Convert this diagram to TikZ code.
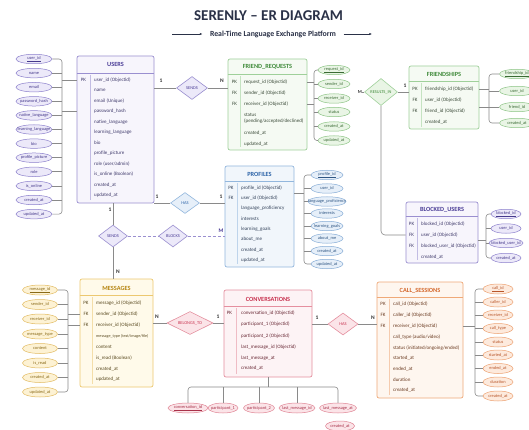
\documentclass[tikz,border=0pt]{standalone}
\usepackage{fontspec}
\setmainfont{Carlito}
\usetikzlibrary{shapes.geometric,arrows.meta,calc}

% theme colours: B border, F fill, H header text, T row text, E attribute border, L light fill, A attribute text
\definecolor{puB}{HTML}{9A8FD0}\definecolor{puF}{HTML}{F7F5FC}\definecolor{puH}{HTML}{4A3C96}
\definecolor{puT}{HTML}{3F3A6B}\definecolor{puE}{HTML}{8C80CC}\definecolor{puL}{HTML}{ECE9F9}\definecolor{puA}{HTML}{463A8C}
\definecolor{grB}{HTML}{9FD09A}\definecolor{grF}{HTML}{F5FAF3}\definecolor{grH}{HTML}{3F8A3A}
\definecolor{grT}{HTML}{3A4A38}\definecolor{grE}{HTML}{8CC485}\definecolor{grL}{HTML}{E9F5E5}\definecolor{grA}{HTML}{3B6B35}
\definecolor{blB}{HTML}{93B7DD}\definecolor{blF}{HTML}{F1F6FB}\definecolor{blH}{HTML}{2D64A8}
\definecolor{blT}{HTML}{33425A}\definecolor{blE}{HTML}{86ACD6}\definecolor{blL}{HTML}{E6EFF9}\definecolor{blA}{HTML}{2F5684}
\definecolor{yeB}{HTML}{ECC870}\definecolor{yeF}{HTML}{FFFAEA}\definecolor{yeH}{HTML}{B5840F}
\definecolor{yeT}{HTML}{5A4A20}\definecolor{yeE}{HTML}{E2BB62}\definecolor{yeL}{HTML}{FDF2D4}\definecolor{yeA}{HTML}{8A6A18}
\definecolor{pkB}{HTML}{E58F9F}\definecolor{pkF}{HTML}{FDF3F5}\definecolor{pkH}{HTML}{C8324F}
\definecolor{pkT}{HTML}{6A2A36}\definecolor{pkE}{HTML}{E08595}\definecolor{pkL}{HTML}{FBE4E8}\definecolor{pkA}{HTML}{A8324A}
\definecolor{orB}{HTML}{EFA978}\definecolor{orF}{HTML}{FEF6EF}\definecolor{orH}{HTML}{D4672B}
\definecolor{orT}{HTML}{6A3A20}\definecolor{orE}{HTML}{EDA171}\definecolor{orL}{HTML}{FDEADD}\definecolor{orA}{HTML}{B8562A}
\definecolor{lineg}{HTML}{8A8A8A}
\definecolor{navy}{HTML}{2A3147}
\definecolor{darkg}{HTML}{333333}

\newcommand{\zb}[1]{\makebox[0pt]{#1}}
\newcommand{\rowfont}{\fontsize{5}{6}\selectfont}
\newcommand{\hdrfont}{\fontsize{6.3}{7}\selectfont\bfseries}
\newcommand{\attfont}{\fontsize{4.4}{5}\selectfont}
\newcommand{\relfont}{\fontsize{4.4}{5}\selectfont}
\newcommand{\cardfont}{\fontsize{5.5}{6}\selectfont\bfseries}

\begin{document}
\begin{tikzpicture}[x=1pt,y=-1pt,
  conn/.style={draw=lineg, line width=0.6pt},
  tbox/.style={draw=#1B, fill=#1F, line width=0.7pt, rounded corners=2pt, inner sep=0pt},
  hdr/.style={font=\hdrfont, text=#1H, inner sep=0pt},
  sepl/.style={draw=#1B, line width=0.5pt},
  divl/.style={draw=#1B!60, line width=0.3pt},
  krow/.style={font=\rowfont, text=#1T, inner sep=0pt},
  trow/.style={font=\rowfont, text=#1T, anchor=west, inner sep=0pt},
  attr/.style={ellipse, draw=#1E, fill=#1L, text=#1A, line width=0.5pt, inner sep=0pt,
    minimum height=9.5pt, minimum width=34pt, font=\attfont},
  rel/.style={diamond, draw=#1B, fill=#1L, text=#1H, line width=0.6pt, inner sep=0pt,
    minimum width=30pt, minimum height=22pt, font=\relfont},
  card/.style={font=\cardfont, text=darkg, inner sep=0pt},
  tip/.style={draw=navy, line width=0.6pt, -{Latex[length=2.6pt,width=2.2pt]}}]
\useasboundingbox (0,0) rectangle (529,430);
\fill[white] (0,0) rectangle (529,430);

% ---------- title ----------
\node[font=\fontsize{15}{15}\selectfont\bfseries, text=navy] (title) at (268.5,16) {SERENLY – ER DIAGRAM};
\node[font=\fontsize{7.8}{8}\selectfont\bfseries, text=navy] (sub) at (273,34) {Real-Time Language Exchange Platform};
\coordinate (la) at (172,34);
\coordinate (ra) at (372,34);
\draw[tip] (la) -- ([xshift=-4pt]sub.west);
\draw[tip] ([xshift=4pt]sub.east) -- (ra);

% ---------- USERS ----------
\node[tbox=pu, minimum width=77pt, minimum height=147pt] (users) at (115.5,129.5) {};
\node[hdr=pu] (usersh) at (115.5,64.5) {USERS};
\draw[sepl=pu] (users.west |- 0,73) -- (users.east |- 0,73);
\draw[divl=pu] (90,75) -- (90,200);
\foreach \y/\k/\t [count=\i] in {80/PK/{user\_id (Objectid)}, 90.5//name, 101//{email (Unique)},
  111.5//{password\_hash}, 122//{native\_language}, 132.5//{learning\_language}, 143//bio,
  153.5//{profile\_picture}, 164//{role (user/admin)}, 174.5//{is\_online (Boolean)},
  185//{created\_at}, 195.5//{updated\_at}} {
  \node[krow=pu] at (83.5,\y) {\k};
  \node[trow=pu] (ur\i) at (94,\y) {\t};
}
\foreach \y/\t [count=\i] in {59/{\underline{user\_id}}, 73.1/name, 87.2/email, 101.3/{password\_hash},
  115.4/{native\_language}, 129.5/{learning\_language}, 143.6/bio, 157.7/{profile\_picture},
  171.8/role, 185.9/{is\_online}, 200/{created\_at}, 214.1/{updated\_at}} {
  \node[attr=pu, minimum width=36pt] (ua\i) at (34,\y) {\zb{\t}};
}
\coordinate (ubus) at (62,59);
\foreach \i in {2,...,11} \draw[conn] (ua\i.east) -- (ua\i -| ubus);
\draw[conn, rounded corners=3pt] (ua1.east) -- (ua1 -| ubus) -- (ua12 -| ubus) -- (ua12.east);
\draw[conn] (ubus |- ur1) -- (users.west |- ur1);
\draw[conn] (ubus |- ur4) -- (users.west |- ur4);

% ---------- FRIEND_REQUESTS ----------
\node[tbox=gr, minimum width=79pt, minimum height=91pt] (fr) at (267.5,104.5) {};
\node[hdr=gr] (frh) at (267.5,66.5) {FRIEND\_REQUESTS};
\draw[sepl=gr] (fr.west |- 0,74) -- (fr.east |- 0,74);
\draw[divl=gr] (240,76) -- (240,147);
\foreach \y/\k/\t [count=\i] in {82/PK/{request\_id (Objectid)}, 93/FK/{sender\_id (Objectid)},
  104/FK/{receiver\_id (Objectid)}, 114.5//status, 121//{(pending/accepted/declined)},
  133.5//{created\_at}, 144//{updated\_at}} {
  \node[krow=gr] at (234.5,\y) {\k};
  \node[trow=gr] (frr\i) at (244,\y) {\t};
}
\foreach \y/\t [count=\i] in {70/{\underline{request\_id}}, 84/{sender\_id}, 98.5/{receiver\_id},
  112/status, 126.5/{created\_at}, 140.5/{updated\_at}} {
  \node[attr=gr, minimum width=32pt] (fa\i) at (334,\y) {\zb{\t}};
}
\coordinate (fbus) at (314,70);
\foreach \i in {2,...,5} \draw[conn] (fa\i.west) -- (fa\i -| fbus);
\draw[conn, rounded corners=3pt] (fa1.west) -- (fa1 -| fbus) -- (fa6 -| fbus) -- (fa6.west);
\draw[conn] (fr.east |- frr1) -- (fbus |- frr1);
\draw[conn] (fr.east |- frr3) -- (fbus |- frr3);

% ---------- FRIENDSHIPS ----------
\node[tbox=gr, minimum width=70pt, minimum height=63pt] (fs) at (444,97.5) {};
\node[hdr=gr] (fsh) at (444,74) {FRIENDSHIPS};
\draw[sepl=gr] (fs.west |- 0,81.5) -- (fs.east |- 0,81.5);
\draw[divl=gr] (421,83) -- (421,127);
\foreach \y/\k/\t [count=\i] in {89/PK/{friendship\_id (Objectid)}, 100/FK/{user\_id (Objectid)},
  111/FK/{friend\_id (Objectid)}, 122//{created\_at}} {
  \node[krow=gr] at (415,\y) {\k};
  \node[trow=gr] (fsr\i) at (425,\y) {\t};
}
\foreach \y/\t [count=\i] in {74/{\underline{friendship\_id}}, 91/{user\_id}, 107/{friend\_id}, 123/{created\_at}} {
  \node[attr=gr, minimum width=35pt] (sa\i) at (517,\y) {\zb{\t}};
}
\coordinate (sbus) at (489,74);
\foreach \i in {2,3} \draw[conn] (sa\i.west) -- (sa\i -| sbus);
\draw[conn, rounded corners=3pt] (sa1.west) -- (sa1 -| sbus) -- (sa4 -| sbus) -- (sa4.west);
\draw[conn] (fs.east |- fsr1) -- (sbus |- fsr1);
\draw[conn] (fs.east |- sa3) -- (sbus |- sa3);

% ---------- PROFILES ----------
\node[tbox=bl, minimum width=69pt, minimum height=101pt] (pr) at (259.5,216.5) {};
\node[hdr=bl] (prh) at (259.5,174) {PROFILES};
\draw[sepl=bl] (pr.west |- 0,181) -- (pr.east |- 0,181);
\draw[divl=bl] (237,183) -- (237,264);
\foreach \y/\k/\t [count=\i] in {188/PK/{profile\_id (Objectid)}, 198.3/FK/{user\_id (Objectid)},
  208.6//{language\_proficiency}, 218.9//interests, 229.2//{learning\_goals}, 239.5//{about\_me},
  249.8//{created\_at}, 260.1//{updated\_at}} {
  \node[krow=bl] at (231,\y) {\k};
  \node[trow=bl] (prr\i) at (241,\y) {\t};
}
\foreach \y/\t/\w [count=\i] in {175/{\underline{profile\_id}}/32, 188.5/{user\_id}/32,
  201.5/{language\_proficiency}/38, 213.5/interests/32, 226/{learning\_goals}/32,
  238.5/{about\_me}/32, 251/{created\_at}/32, 264/{updated\_at}/32} {
  \node[attr=bl, minimum width=\w pt] (pa\i) at (327,\y) {\zb{\t}};
}
\coordinate (pbus) at (304,175);
\foreach \i in {2,...,7} \draw[conn] (pa\i.west) -- (pa\i -| pbus);
\draw[conn, rounded corners=3pt] (pa1.west) -- (pa1 -| pbus) -- (pa8 -| pbus) -- (pa8.west);
\coordinate (pfeed) at ($(prr1)!0.5!(prr2)$);
\draw[conn] (pr.east |- pfeed) -- (pbus |- pfeed);

% ---------- BLOCKED_USERS ----------
\node[tbox=pu, minimum width=72pt, minimum height=61pt] (bu) at (442,232.5) {};
\node[hdr=pu] (buh) at (442,209.5) {BLOCKED\_USERS};
\draw[sepl=pu] (bu.west |- 0,216.5) -- (bu.east |- 0,216.5);
\draw[divl=pu] (417,218) -- (417,260);
\foreach \y/\k/\t [count=\i] in {224/PK/{blocked\_id (Objectid)}, 235/FK/{user\_id (Objectid)},
  246/FK/{blocked\_user\_id (Objectid)}, 257//{created\_at}} {
  \node[krow=pu] at (411.5,\y) {\k};
  \node[trow=pu] (bur\i) at (421,\y) {\t};
}
\foreach \y/\t/\w [count=\i] in {214/{\underline{blocked\_id}}/30, 228.5/{user\_id}/30,
  243/{blocked\_user\_id}/34, 258/{created\_at}/30} {
  \node[attr=pu, minimum width=\w pt] (ba\i) at (506,\y) {\zb{\t}};
}
\coordinate (bbus) at (486,214);
\foreach \i in {2,3} \draw[conn] (ba\i.west) -- (ba\i -| bbus);
\draw[conn, rounded corners=3pt] (ba1.west) -- (ba1 -| bbus) -- (ba4 -| bbus) -- (ba4.west);
\coordinate (bfeed) at ($(bur2)!0.5!(bur3)$);
\draw[conn] (bu.east |- bfeed) -- (bbus |- bfeed);

% ---------- MESSAGES ----------
\node[tbox=ye, minimum width=73pt, minimum height=108pt] (msg) at (116.5,333) {};
\node[hdr=ye] (msgh) at (116.5,288.5) {MESSAGES};
\draw[sepl=ye] (msg.west |- 0,295.5) -- (msg.east |- 0,295.5);
\draw[divl=ye] (92,297) -- (92,384);
\foreach \y/\k/\t [count=\i] in {303/PK/{message\_id (Objectid)}, 314/FK/{sender\_id (Objectid)},
  325/FK/{receiver\_id (Objectid)}, 336//{{\fontsize{4.1}{5}\selectfont message\_type (text/image/file)}},
  347//content, 358//{is\_read (Boolean)}, 369//{created\_at}, 379.5//{updated\_at}} {
  \node[krow=ye] at (86,\y) {\k};
  \node[trow=ye] (mr\i) at (96,\y) {\t};
}
\foreach \y/\t [count=\i] in {290/{\underline{message\_id}}, 304.5/{sender\_id}, 319/{receiver\_id},
  334/{message\_type}, 348.5/content, 363/{is\_read}, 377.5/{created\_at}, 392/{updated\_at}} {
  \node[attr=ye, minimum width=35pt, minimum height=10pt] (ma\i) at (40,\y) {\zb{\t}};
}
\coordinate (mbus) at (68,290);
\foreach \i in {2,...,7} \draw[conn] (ma\i.east) -- (ma\i -| mbus);
\draw[conn, rounded corners=3pt] (ma1.east) -- (ma1 -| mbus) -- (ma8 -| mbus) -- (ma8.east);
\draw[conn] (mbus |- mr2) -- (msg.west |- mr2);
\draw[conn] (mbus |- mr3) -- (msg.west |- mr3);

% ---------- CONVERSATIONS ----------
\node[tbox=pk, minimum width=88pt, minimum height=87pt] (conv) at (268,333.5) {};
\node[hdr=pk] (convh) at (268,299) {CONVERSATIONS};
\draw[sepl=pk] (conv.west |- 0,306) -- (conv.east |- 0,306);
\draw[divl=pk] (236,308) -- (236,374);
\foreach \y/\k/\t [count=\i] in {313/PK/{conversation\_id (Objectid)}, 324.5//{participant\_1 (Objectid)},
  336//{participant\_2 (Objectid)}, 347//{last\_message\_id (Objectid)}, 358//{last\_message\_at},
  368.5//{created\_at}} {
  \node[krow=pk] at (229.5,\y) {\k};
  \node[trow=pk] (cr\i) at (241,\y) {\t};
}
\foreach \x/\y/\t/\w [count=\i] in {188/408/{\underline{conversation\_id}}/40, 223/408/{participant\_1}/30,
  259/408/{participant\_2}/31, 297/408/{last\_message\_id}/36, 338/408/{last\_message\_at}/37,
  340/426/{created\_at}/29} {
  \node[attr=pk, minimum width=\w pt, minimum height=10pt] (ca\i) at (\x,\y) {\zb{\t}};
}
\coordinate (cbus) at (268,387);
\draw[conn] (conv.south) -- (conv.south |- cbus);
\foreach \i in {2,3,4} \draw[conn] (ca\i |- cbus) -- (ca\i.north);
\draw[conn, rounded corners=3pt] (ca1.north) -- (ca1 |- cbus) -- (ca5 |- cbus) -- (ca5.north);

% ---------- CALL_SESSIONS ----------
\node[tbox=or, minimum width=86pt, minimum height=116pt] (cs) at (420,340) {};
\node[hdr=or] (csh) at (420,290.5) {CALL\_SESSIONS};
\draw[sepl=or] (cs.west |- 0,297.5) -- (cs.east |- 0,297.5);
\draw[divl=or] (389,299) -- (389,395);
\foreach \y/\k/\t [count=\i] in {304/PK/{call\_id (Objectid)}, 315/FK/{caller\_id (Objectid)},
  326/FK/{receiver\_id (Objectid)}, 337//{call\_type (audio/video)},
  348//{status (initiated/ongoing/ended)}, 358.5//{started\_at}, 369//{ended\_at},
  380//duration, 390.5//{created\_at}} {
  \node[krow=or] at (383,\y) {\k};
  \node[trow=or] (csr\i) at (393,\y) {\t};
}
\foreach \y/\t [count=\i] in {289/{\underline{call\_id}}, 302/{caller\_id}, 315/{receiver\_id},
  328.5/{call\_type}, 342/status, 355/{started\_at}, 368.5/{ended\_at}, 382/duration, 396/{created\_at}} {
  \node[attr=or, minimum width=30pt, minimum height=10pt] (oa\i) at (498,\y) {\zb{\t}};
}
\coordinate (obus) at (475,289);
\foreach \i in {2,...,8} \draw[conn] (oa\i.west) -- (oa\i -| obus);
\draw[conn, rounded corners=3pt] (oa1.west) -- (oa1 -| obus) -- (oa9 -| obus) -- (oa9.west);
\draw[conn] (cs.east |- csr3) -- (obus |- csr3);

% ---------- relationships ----------
\node[rel=pu, minimum width=31pt, minimum height=23pt] (rs1) at (192,88) {\zb{SENDS}};
\draw[conn] (users.east |- rs1) -- (rs1.west);
\draw[conn] (rs1.east) -- (fr.west |- rs1);
\node[card] (c1) at (161,81) {1};
\node[card] (c2) at (222,81) {N};

\node[rel=gr, minimum width=33pt, minimum height=27pt] (rres) at (381,92) {\zb{RESULTS\_IN}};
\draw[conn] (rres.east) -- (fs.west |- rres);
\draw[conn, rounded corners=4pt] (rres.south) |- (bu.west |- bur2);
\node[card, font=\fontsize{4.6}{5}\selectfont\bfseries] (c3) at (360,92) {M};
\draw[conn] (c3.east) -- (rres.west);
\node[card] (c4) at (405,86) {1};

\node[rel=bl, minimum width=29pt, minimum height=21pt] (rh1) at (185,203) {\zb{HAS}};
\draw[conn] (users.east |- rh1) -- (rh1.west);
\draw[conn] (rh1.east) -- (pr.west |- rh1);
\node[card] (c5) at (157,197) {1};
\node[card] (c6) at (221,197) {1};

\node[rel=pu, minimum width=29pt, minimum height=22pt] (rs2) at (113,236) {\zb{SENDS}};
\draw[conn] (rs2 |- users.south) -- (rs2.north);
\draw[conn] (rs2.south) -- (rs2 |- msg.north);
\node[card] (c7) at (110,210) {1};
\node[card] (c8) at (118,272) {N};

\node[rel=pu, minimum width=29pt, minimum height=22pt] (rb) at (173,236) {\zb{BLOCKS}};
\draw[conn, draw=puB, dash pattern=on 3pt off 2pt] (rs2.east) -- (rb.west);
\draw[conn, draw=puB, dash pattern=on 3pt off 2pt] (rb.east) -- (pr.west |- rb);
\node[card, text=puH] (c9) at (221,231) {M};

\node[rel=pk, minimum width=46pt, minimum height=23pt] (rbt) at (190,323) {\zb{BELONGS\_TO}};
\draw[conn] (msg.east |- rbt) -- (rbt.west);
\draw[conn] (rbt.east) -- (conv.west |- rbt);
\node[card] (c10) at (157,317) {N};
\node[card] (c11) at (218,317) {1};

\node[rel=pk, minimum width=30pt, minimum height=22pt] (rh2) at (343,324) {\zb{HAS}};
\draw[conn] (conv.east |- rh2) -- (rh2.west);
\draw[conn] (rh2.east) -- (cs.west |- rh2);
\node[card] (c12) at (317,318) {1};
\node[card] (c13) at (373,318) {N};
\end{tikzpicture}
\end{document}
